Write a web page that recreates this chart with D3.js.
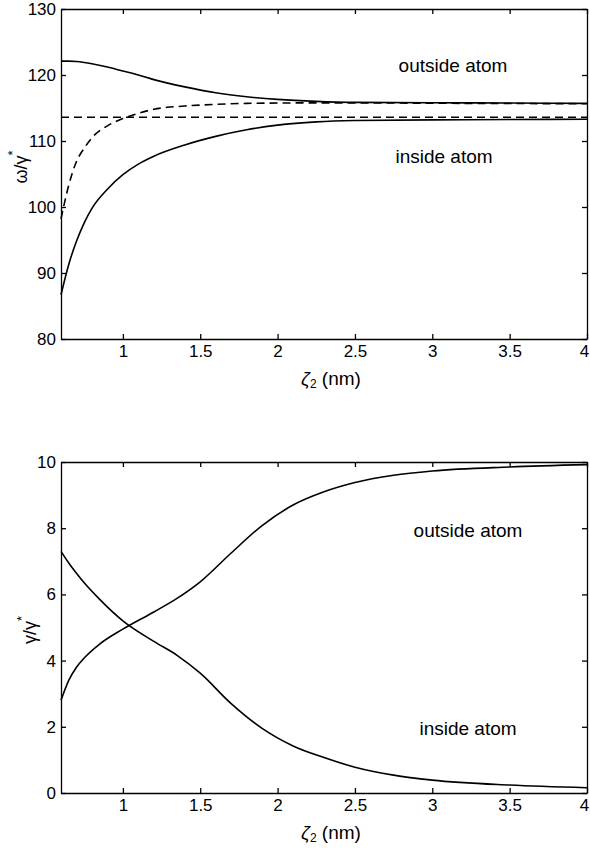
<!DOCTYPE html>
<html>
<head>
<meta charset="utf-8">
<script src="https://cdn.jsdelivr.net/npm/d3@7"></script>
<style>
  body { margin: 0; background: #fff; }
  svg { display: block; }
  text { font-family: "Liberation Sans", Arial, Helvetica, sans-serif; fill: #000; }
  .axis path, .axis line { stroke: #000; stroke-width: 1.3; }
  .axis text { font-size: 17px; }
</style>
</head>
<body>
<div id="chart"></div>
<script>
"use strict"

// shared x ticks (zeta_2 in nm)
const xTicks = [1, 1.5, 2, 2.5, 3, 3.5, 4];

// ---- top panel: omega / gamma* ----
const zetaTop = [0.6, 0.65, 0.7, 0.75, 0.8, 0.9, 1.0, 1.1, 1.2, 1.4, 1.6, 1.8, 2.0, 2.25, 2.5, 3.0, 3.5, 4.0];
const omegaOutsideSolid = [122.1, 122.1, 122.05, 121.9, 121.7, 121.2, 120.6, 120.0, 119.3, 118.2, 117.3, 116.7, 116.3, 116.0, 115.85, 115.8, 115.75, 115.7];
const omegaInsideSolid  = [86.7, 91.3, 94.8, 97.6, 99.8, 102.7, 104.9, 106.5, 107.7, 109.4, 110.7, 111.7, 112.4, 112.9, 113.1, 113.2, 113.25, 113.3];
const omegaOutsideDash  = [98.2, 103.3, 106.9, 108.9, 110.5, 112.3, 113.4, 114.2, 114.8, 115.3, 115.55, 115.7, 115.75, 115.78, 115.78, 115.72, 115.68, 115.65];
const omegaInsideDash   = [113.6, 113.6];
const zetaFlat = [0.6, 4.0];
const omegaTicks = [80, 90, 100, 110, 120, 130];

// ---- bottom panel: gamma / gamma* ----
const zetaBot = [0.6, 0.65, 0.7, 0.75, 0.85, 1.0, 1.2, 1.35, 1.5, 1.7, 1.9, 2.1, 2.3, 2.5, 2.75, 3.0, 3.5, 4.0];
const gammaInside  = [7.3, 6.95, 6.64, 6.35, 5.85, 5.2, 4.58, 4.16, 3.62, 2.7, 1.95, 1.42, 1.07, 0.78, 0.54, 0.39, 0.24, 0.16];
const gammaOutside = [2.8, 3.4, 3.8, 4.08, 4.5, 4.95, 5.47, 5.88, 6.38, 7.25, 8.08, 8.7, 9.1, 9.38, 9.6, 9.73, 9.85, 9.92];
const gammaTicks = [0, 2, 4, 6, 8, 10];

const W = 590, H = 852;
const svg = d3.select("#chart").append("svg").attr("width", W).attr("height", H);
svg.append("rect").attr("width", W).attr("height", H).attr("fill", "#fff");

function zip(xs, ys) { return xs.map((x, i) => ({x: x, y: ys[i]})); }

function panel(cfg) {
	const x = d3.scaleLinear().domain([0.6, 4]).range([61, 587]);
	const y = d3.scaleLinear().domain(cfg.yDomain).range([cfg.bottom, cfg.top]);
	const g = svg.append("g");

	const line = d3.line().x(d => x(d.x)).y(d => y(d.y)).curve(d3.curveMonotoneX);

	cfg.series.forEach(s => {
		g.append("path")
			.attr("d", line(zip(s.xs, s.ys)))
			.attr("fill", "none")
			.attr("stroke", "#000")
			.attr("stroke-width", 1.6)
			.attr("stroke-dasharray", s.dash ? "8,5" : null);
	});

	const xAxis = g.append("g").attr("class", "axis")
		.attr("transform", `translate(0,${cfg.bottom})`)
		.call(d3.axisBottom(x).tickValues(xTicks).tickFormat(d3.format("")).tickSizeInner(-5).tickSizeOuter(0).tickPadding(6));
	// last label sits right on the page edge
	xAxis.selectAll(".tick text").filter(d => d === 4).attr("dx", -3);

	g.append("g").attr("class", "axis")
		.attr("transform", `translate(0,${cfg.top})`)
		.call(d3.axisTop(x).tickValues(xTicks).tickFormat("").tickSizeInner(-5).tickSizeOuter(0));
	g.append("g").attr("class", "axis")
		.attr("transform", `translate(${x.range()[0]},0)`)
		.call(d3.axisLeft(y).tickValues(cfg.yTicks).tickFormat(d3.format("")).tickSizeInner(-5).tickSizeOuter(0).tickPadding(5));
	g.append("g").attr("class", "axis")
		.attr("transform", `translate(${x.range()[1]},0)`)
		.call(d3.axisRight(y).tickValues(cfg.yTicks).tickFormat("").tickSizeInner(-5).tickSizeOuter(0));

	// x title
	const xt = g.append("text")
		.attr("x", 331).attr("y", cfg.bottom + 46)
		.attr("text-anchor", "middle")
		.style("font-size", "19px");
	xt.append("tspan").text("ζ").style("font-style", "italic");
	xt.append("tspan").text("2").attr("dy", 3).style("font-size", "12px");
	xt.append("tspan").text(" (nm)").attr("dy", -3);

	// y title
	const yt = g.append("text")
		.attr("transform", `translate(${cfg.yLabelX},${cfg.yLabelY}) rotate(-90)`)
		.attr("text-anchor", "middle")
		.style("font-size", "18px");
	yt.append("tspan").text(cfg.yLabel);
	yt.append("tspan").text("*").attr("dy", -10).style("font-size", "13px");

	cfg.notes.forEach(n => {
		g.append("text")
			.attr("x", n.x).attr("y", n.y)
			.attr("text-anchor", "middle")
			.style("font-size", "19px")
			.text(n.text);
	});
}

panel({
	top: 9, bottom: 339,
	yDomain: [80, 130], yTicks: omegaTicks,
	yLabel: "ω/γ", yLabelX: 27, yLabelY: 167,
	series: [
		{xs: zetaTop, ys: omegaOutsideSolid},
		{xs: zetaTop, ys: omegaInsideSolid},
		{xs: zetaTop, ys: omegaOutsideDash, dash: true},
		{xs: zetaFlat, ys: omegaInsideDash, dash: true}
	],
	notes: [
		{text: "outside atom", x: 453, y: 72},
		{text: "inside atom", x: 444, y: 163}
	]
});

panel({
	top: 462, bottom: 793,
	yDomain: [0, 10], yTicks: gammaTicks,
	yLabel: "γ/γ", yLabelX: 36, yLabelY: 630,
	series: [
		{xs: zetaBot, ys: gammaInside},
		{xs: zetaBot, ys: gammaOutside}
	],
	notes: [
		{text: "outside atom", x: 468, y: 537},
		{text: "inside atom", x: 468, y: 735}
	]
});
</script>
</body>
</html>
